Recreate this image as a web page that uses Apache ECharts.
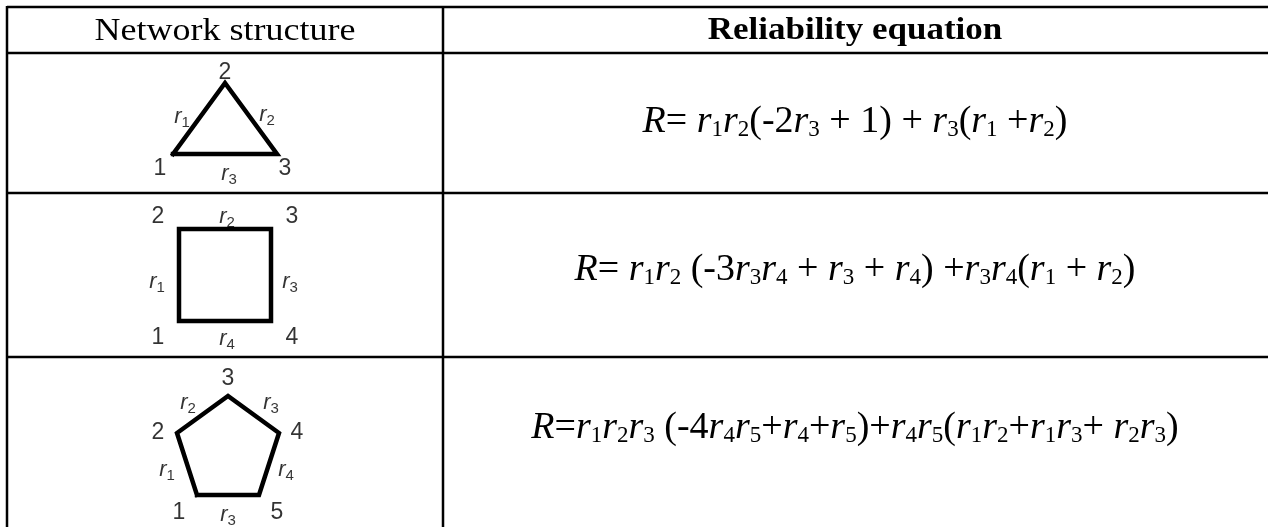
<!DOCTYPE html>
<html>
<head>
<meta charset="utf-8">
<script src="https://cdn.jsdelivr.net/npm/echarts@6/dist/echarts.min.js"></script>
<style>
    html, body { margin: 0; padding: 0; background: #fff; }
    #chart { width: 1268px; height: 527px; }
</style>
</head>
<body>
<div id="chart"></div>
<script>
// header texts
const headers = ['Network structure', 'Reliability equation'];

// reliability equations, one per row (r<digit> = r with subscript)
const equations = [
    'R= r1r2(-2r3 + 1) + r3(r1 +r2)',
    'R= r1r2 (-3r3r4 + r3 + r4) +r3r4(r1 + r2)',
    'R=r1r2r3 (-4r4r5+r4+r5)+r4r5(r1r2+r1r3+ r2r3)',
];

// network vertices (local units, node 1 at origin)
const triangleNodes = [[0, 0], [52, 71], [104, 0]];
const squareNodes = [[0, 0], [0, 92], [92, 92], [92, 0]];
const pentagonNodes = [[0, 0], [-20, 62], [31, 99], [82, 62], [62, 0]];

// node and link labels: [text, x, y]
const triangleLabels = [
    ['2', 52, 81], ['1', -13, -15], ['3', 112, -15],
    ['r1', 9, 37], ['r2', 94, 39], ['r3', 56, -20],
];
const squareLabels = [
    ['2', -21, 104], ['3', 113, 104], ['r2', 48, 104],
    ['r1', -22, 39], ['r3', 111, 39],
    ['1', -21, -17], ['r4', 48, -18], ['4', 113, -17],
];
const pentagonLabels = [
    ['3', 31, 116], ['2', -39, 62], ['4', 100, 62],
    ['r2', -9, 92], ['r3', 74, 92],
    ['r1', -30, 25], ['r4', 89, 25],
    ['1', -18, -18], ['r3', 31, -20], ['5', 80, -18],
];

const chart = echarts.init(document.getElementById('chart'));

function toRich(str) {
    return str.replace(/r(\d)/g, '{i|r}{s|$1}').replace(/R/g, '{i|R}');
}

// grid boxes: each 1 unit = 1 px
const boxes = [
    { left: 133, top: 54, width: 180, height: 130, x: [-40, 140], y: [-30, 100] },
    { left: 139, top: 191, width: 180, height: 160, x: [-40, 140], y: [-30, 130] },
    { left: 137, top: 365, width: 180, height: 160, x: [-60, 120], y: [-30, 130] },
];
const shapes = [triangleNodes, squareNodes, pentagonNodes];
const shapeLabels = [triangleLabels, squareLabels, pentagonLabels];

const labelRich = {
    i: { fontFamily: 'Liberation Sans', fontStyle: 'italic', fontSize: 22, color: '#000' },
    s: { fontFamily: 'Liberation Sans', fontSize: 15, color: '#000', padding: [12, 0, 0, 0] },
};

const series = [];
shapes.forEach((nodes, k) => {
    series.push({
        type: 'line',
        xAxisIndex: k,
        yAxisIndex: k,
        data: nodes.concat([nodes[0]]),
        symbol: 'none',
        lineStyle: { color: '#000', width: 4.5, join: 'miter', cap: 'square' },
        silent: true,
    });
    series.push({
        type: 'scatter',
        xAxisIndex: k,
        yAxisIndex: k,
        symbolSize: 1,
        itemStyle: { color: 'rgba(0,0,0,0)' },
        data: shapeLabels[k].map((d) => ({ value: [d[1], d[2]], name: d[0] })),
        label: {
            show: true,
            position: 'inside',
            formatter: (p) => toRich(p.name),
            fontFamily: 'Liberation Sans',
            fontSize: 23,
            color: '#000',
            rich: labelRich,
        },
        silent: true,
    });
});

const lineStyle = { stroke: '#000', lineWidth: 2.5 };
const tableLines = [
    [7, 7, 1268, 7], [7, 53, 1268, 53], [7, 193, 1268, 193], [7, 357, 1268, 357],
    [7, 6, 7, 527], [443, 7, 443, 527],
];

const eqRich = {
    i: { fontFamily: 'Liberation Serif', fontStyle: 'italic', fontSize: 38, color: '#000' },
    s: { fontFamily: 'Liberation Serif', fontSize: 23, color: '#000', padding: [16, 0, 0, 0] },
};
const eqY = [122, 270, 428];

const graphic = tableLines.map((l) => ({
    type: 'line',
    shape: { x1: l[0], y1: l[1], x2: l[2], y2: l[3] },
    style: lineStyle,
    silent: true,
}));
graphic.push({
    type: 'text', x: 225, y: 31, scaleY: 0.9,
    style: { text: headers[0], font: '36px "Liberation Serif"', fill: '#000', align: 'center', verticalAlign: 'middle' },
});
graphic.push({
    type: 'text', x: 855, y: 31, scaleY: 0.9,
    style: { text: headers[1], font: 'bold 35px "Liberation Serif"', fill: '#000', align: 'center', verticalAlign: 'middle' },
});
equations.forEach((eq, k) => {
    graphic.push({
        type: 'text', x: 855, y: eqY[k],
        style: {
            text: toRich(eq),
            font: '38px "Liberation Serif"',
            fill: '#000',
            align: 'center',
            verticalAlign: 'middle',
            rich: eqRich,
        },
    });
});

chart.setOption({
    animation: false,
    backgroundColor: '#fff',
    grid: boxes.map((b) => ({ left: b.left, top: b.top, width: b.width, height: b.height, containLabel: false })),
    xAxis: boxes.map((b, k) => ({ type: 'value', gridIndex: k, min: b.x[0], max: b.x[1], show: false })),
    yAxis: boxes.map((b, k) => ({ type: 'value', gridIndex: k, min: b.y[0], max: b.y[1], show: false })),
    series: series,
    graphic: graphic,
});
</script>
</body>
</html>
